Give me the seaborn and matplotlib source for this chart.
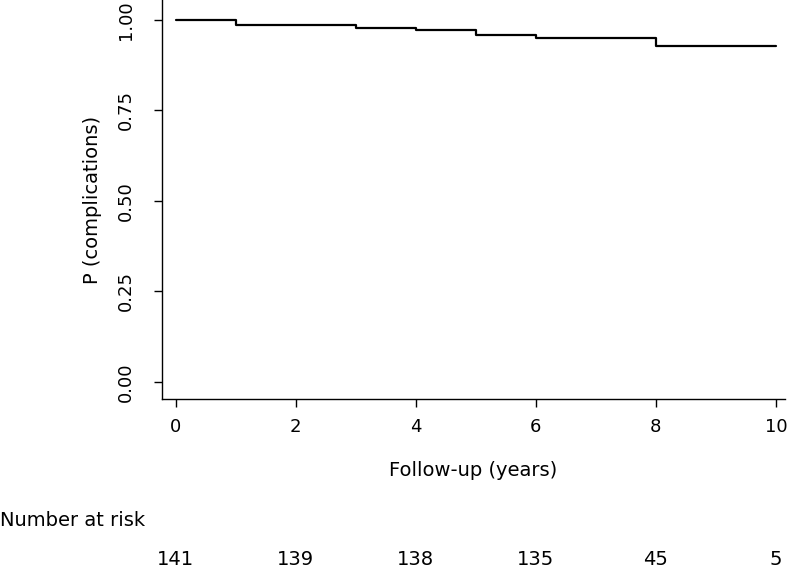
import numpy as np
import pandas as pd
import matplotlib
matplotlib.use("Agg")
import matplotlib.pyplot as plt
import seaborn as sns

# Kaplan-Meier style step curve
times = [0, 1, 3, 4, 5, 6, 8, 10]
surv = [1.000, 0.986, 0.979, 0.972, 0.958, 0.950, 0.929, 0.929]

risk_times = [0, 2, 4, 6, 8, 10]
at_risk = [141, 139, 138, 135, 45, 5]

df = pd.DataFrame({"time": times, "p": surv})

sns.set_style("ticks")
plt.rcParams['font.family'] = ['DejaVu Sans']
plt.rcParams['text.color'] = 'black'

fig = plt.figure(figsize=(7.88, 5.72), dpi=100)
ax = fig.add_axes([0.2056, 0.3024, 0.7904, 0.6976])

sns.lineplot(data=df, x="time", y="p", drawstyle="steps-post",
             color="black", linewidth=1.6, ax=ax)

ax.set_xlim(-0.23, 10.15)
ax.set_ylim(-0.047, 1.055)
ax.set_xticks(risk_times)
ax.set_yticks([0, 0.25, 0.5, 0.75, 1.0])
ax.set_yticklabels(["0.00", "0.25", "0.50", "0.75", "1.00"], rotation=90, va="center")
ax.tick_params(axis="both", length=5.5, width=1, labelsize=13, color="black", labelcolor="black")
ax.tick_params(axis="x", pad=8)
ax.tick_params(axis="y", pad=14)
for s in ["top", "right"]:
    ax.spines[s].set_visible(False)
for s in ["left", "bottom"]:
    ax.spines[s].set_color("black")
    ax.spines[s].set_linewidth(1)

ax.set_xlabel("")
ax.set_ylabel("")
ax.text(0.5, -0.180, "Follow-up (years)", fontsize=14, ha="center", va="center",
        color="black", transform=ax.transAxes)
ax.text(-0.112, 0.5, "P (complications)", fontsize=14, ha="center", va="center",
        rotation=90, color="black", transform=ax.transAxes)

fig.text(0.0, 1 - 521 / 572, "Number at risk", fontsize=14, ha="left", va="center",
         color="black")
for t, n in zip(risk_times, at_risk):
    ax.text(t, -0.402, str(n), fontsize=14, ha="center", va="center",
            color="black", transform=ax.get_xaxis_transform())

fig.savefig("out.png", dpi=100)
